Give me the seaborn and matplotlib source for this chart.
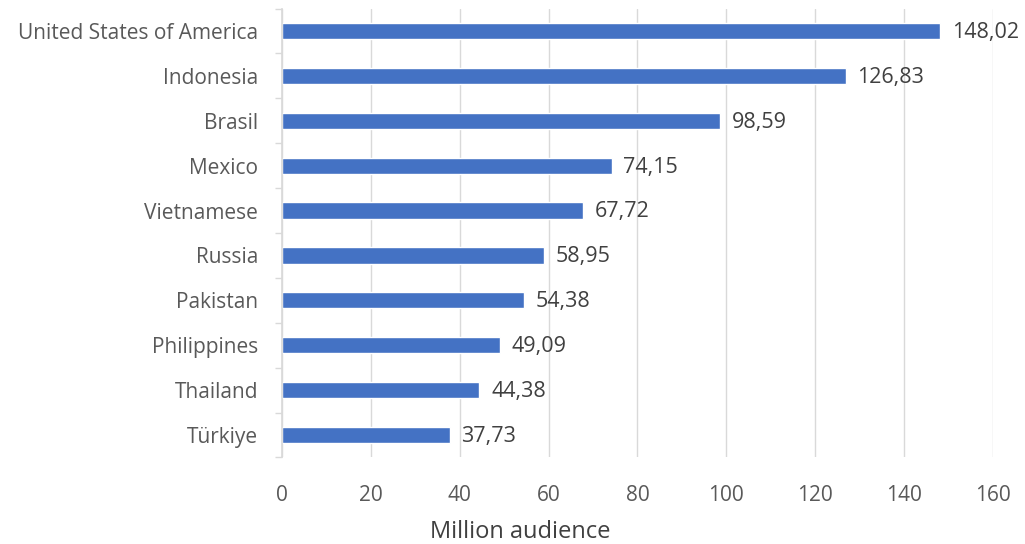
import matplotlib
matplotlib.use("Agg")
import matplotlib.pyplot as plt
import seaborn as sns
import pandas as pd
import numpy as np

countries = ["United States of America", "Indonesia", "Brasil", "Mexico", "Vietnamese",
             "Russia", "Pakistan", "Philippines", "Thailand", "Türkiye"]
audience = [148.02, 126.83, 98.59, 74.15, 67.72, 58.95, 54.38, 49.09, 44.38, 37.73]
xticks = [0, 20, 40, 60, 80, 100, 120, 140, 160]
xlabel = "Million audience"

sns.set_theme(style="white")
plt.rcParams['font.family'] = ['Open Sans', 'DejaVu Sans']

df = pd.DataFrame({"country": countries, "audience": audience})

fig = plt.figure(figsize=(10.25, 5.44), dpi=100)
ax = fig.add_axes([0.2751, 0.1592, 0.6937, 0.825])
sns.barplot(data=df, y="country", x="audience", color="#4472C4", saturation=1,
            width=0.36, ax=ax, orient="h")

ax.set_xlim(0, 160)
ax.set_ylim(9.5, -0.5)
ax.set_xticks(xticks)
ax.set_xticklabels([str(t) for t in xticks])
ax.set_yticks(np.arange(-0.5, len(countries), 1.0), minor=True)
ax.grid(axis="x", color="#D9D9D9", linewidth=1)
ax.set_axisbelow(True)
for s in ["top", "right", "bottom"]:
    ax.spines[s].set_visible(False)
ax.spines["left"].set_color("#D9D9D9")
ax.tick_params(axis="both", which="major", length=0, labelsize=15, colors="#595959")
ax.tick_params(axis="x", pad=20)
ax.tick_params(axis="y", which="major", pad=17)
ax.tick_params(axis="y", which="minor", length=5, width=1, color="#D9D9D9", left=True)
ax.set_ylabel("")
ax.set_xlabel(xlabel, fontsize=17, color="#404040", va="center")
ax.xaxis.set_label_coords(0.335, -0.166)

for i, v in enumerate(audience):
    ax.annotate(f"{v:.2f}".replace(".", ","), xy=(v, i), xytext=(8.5, -1),
                textcoords="offset points", va="center", ha="left",
                fontsize=15.5, color="#404040")

fig.savefig("out.png", dpi=100)
